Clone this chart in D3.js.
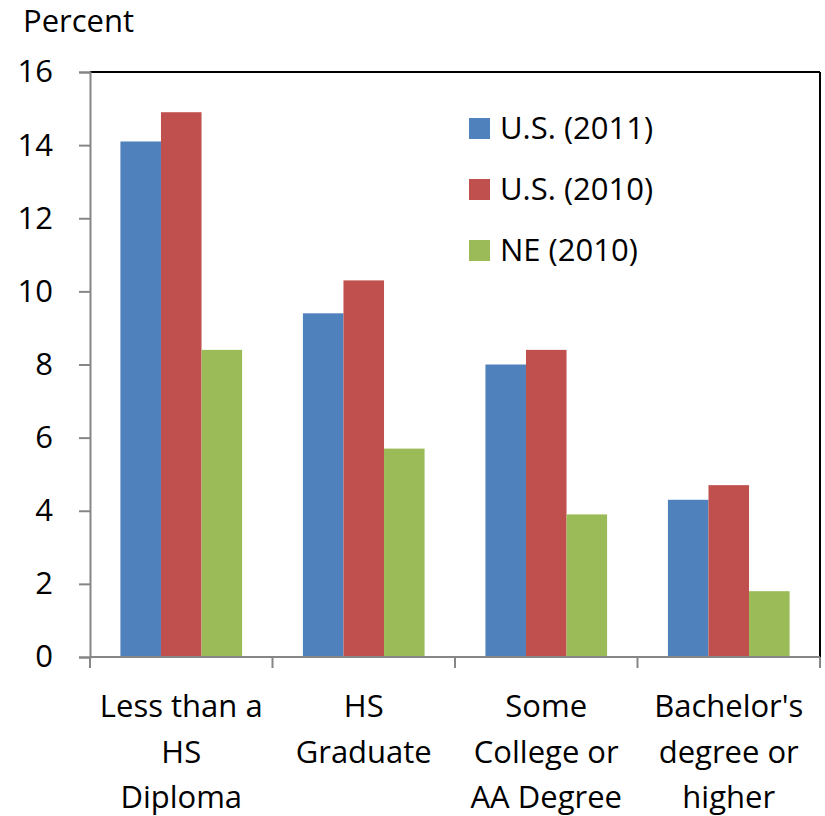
<!DOCTYPE html>
<html><head><meta charset="utf-8">
<script src="https://cdn.jsdelivr.net/npm/d3@7"></script>
<style>body{margin:0;background:#fff;} text{font-family:"Open Sans",sans-serif;fill:#000;}</style>
</head><body><svg id="c" width="825" height="816"></svg>
<script>
const categories = [["Less than a","HS","Diploma"],["HS","Graduate"],["Some","College or","AA Degree"],["Bachelor's","degree or","higher"]];
const seriesNames = ["U.S. (2011)","U.S. (2010)","NE (2010)"];
const us2011 = [14.1, 9.4, 8.0, 4.3];
const us2010 = [14.9, 10.3, 8.4, 4.7];
const ne2010 = [8.4, 5.7, 3.9, 1.8];
const yTicks = [0,2,4,6,8,10,12,14,16];
const colors = ["#4F81BD","#C0504D","#9BBB59"];

const FS = "31px";
const svg = d3.select("#c");
const L=90, R=820, T=72, B=657;
const x = d3.scaleBand().domain(d3.range(categories.length)).range([L,R]).paddingInner(0).paddingOuter(0);
const inner = d3.scaleBand().domain(d3.range(3)).range([0,x.bandwidth()]).paddingOuter(0.75).paddingInner(0);
const y = d3.scaleLinear().domain([0,16]).range([B,T]);
const series=[us2011,us2010,ne2010];

// frame top/right
svg.append("line").attr("x1",L).attr("x2",R).attr("y1",T).attr("y2",T).attr("stroke","#000").attr("stroke-width",2);
svg.append("line").attr("x1",R).attr("x2",R).attr("y1",T).attr("y2",B).attr("stroke","#000").attr("stroke-width",2);

// bars
series.forEach((s,si)=>{
  svg.append("g").selectAll("rect").data(s).join("rect")
    .attr("x",(d,i)=>x(i)+inner(si)).attr("width",inner.bandwidth())
    .attr("y",d=>y(d)).attr("height",d=>B-y(d)).attr("fill",colors[si]);
});

// y axis
const ya = svg.append("g").attr("transform",`translate(${L},0)`)
  .call(d3.axisLeft(y).tickValues(yTicks).tickSize(11).tickPadding(26).tickFormat(d3.format("d")));
ya.selectAll("path,line").attr("stroke","#868686").attr("stroke-width",2);
ya.selectAll("text").style("font-size",FS).style("font-family","'Open Sans',sans-serif").attr("fill","#000");

// x axis
const xt = d3.range(categories.length+1).map(i=>L+i*x.bandwidth());
svg.append("line").attr("x1",L).attr("x2",R).attr("y1",B).attr("y2",B).attr("stroke","#868686").attr("stroke-width",2);
svg.selectAll(".xt").data(xt).join("line").attr("x1",d=>d).attr("x2",d=>d).attr("y1",B).attr("y2",B+11).attr("stroke","#868686").attr("stroke-width",2);
categories.forEach((lines,i)=>{
  const t = svg.append("text").attr("text-anchor","middle").style("font-size",FS);
  lines.forEach((ln,j)=>t.append("tspan").attr("x",x(i)+x.bandwidth()/2).attr("y",717+j*45.5).text(ln));
});

// title
svg.append("text").attr("x",23).attr("y",32).style("font-size",FS).text("Percent");

// legend
seriesNames.forEach((n,i)=>{
  const g=svg.append("g").attr("transform",`translate(469,${118+i*61})`);
  g.append("rect").attr("width",21).attr("height",21).attr("fill",colors[i]);
  g.append("text").attr("x",31).attr("y",21).style("font-size",FS).text(n);
});
</script></body></html>
